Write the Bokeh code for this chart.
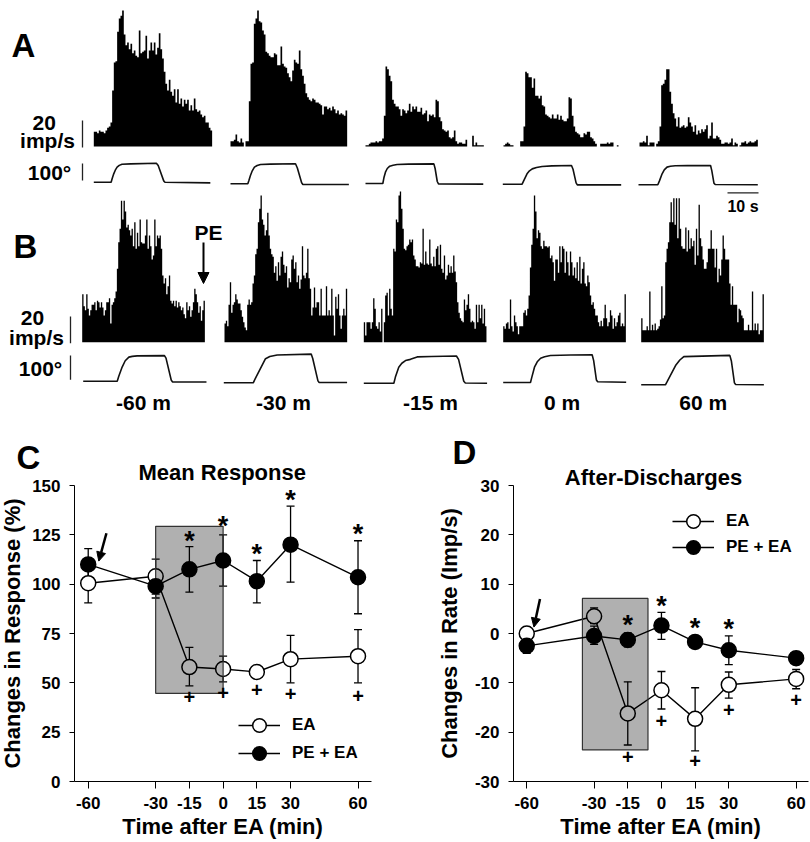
from bokeh.plotting import figure
from bokeh.layouts import column, row
from bokeh.models import (Range1d, Label, Whisker, TeeHead, ColumnDataSource, FixedTicker, Legend, LegendItem,
                          Arrow, NormalHead)
from bokeh.core.properties import value
from bokeh.embed import file_html
from bokeh.resources import INLINE

FONT = "Liberation Sans"

# ---- Histograms, imp/s per bin
hist_a1 = [11,11,10,12,11,11,10,12,14,15,18,42,63,64,86,96,98,102,84,76,78,73,77,70,72,68,67,87,70,71,72,83,66,72,78,72,78,69,74,85,73,66,56,47,42,50,41,38,43,33,43,32,36,30,35,32,35,27,31,27,36,28,26,27,24,22,23,18,18,14,12]
hist_a2 = [4,4,5,9,4,3,6,3,0,4,4,34,62,63,92,96,102,94,93,87,84,71,70,68,67,67,70,69,61,61,75,62,60,59,55,52,49,57,65,63,62,72,58,53,47,40,37,35,34,36,35,33,33,32,31,24,30,30,28,29,27,30,28,25,27,24,25,24,23,27]
hist_a3 = [1,1,2,3,3,3,4,3,4,4,6,23,60,58,53,49,35,32,30,30,28,23,28,27,25,27,32,26,30,28,30,26,26,29,24,25,27,19,24,23,24,22,35,34,22,19,13,12,11,12,7,6,7,12,4,2,3,3,2,2,5,0,0,0,8,1,3,1,1,1,1]
hist_a4 = [1,2,3,2,1,1,0,0,0,0,4,4,15,56,55,52,52,44,51,38,38,36,38,31,30,24,23,22,21,24,21,21,24,20,23,20,19,19,21,37,36,23,15,11,10,9,7,7,10,9,11,11,7,6,4,2,0,0,2,2,2,2,3,2,3,3,0,0,1,0]
hist_a5 = [3,3,4,3,8,1,3,3,3,0,2,4,15,46,47,50,58,58,41,32,25,21,15,22,14,15,16,14,15,22,18,15,11,16,9,12,10,13,11,13,16,6,8,18,6,6,8,7,5,2,2,3,3,2,3,6,1,3,2,0,1,3,3,4,2,3,4,3,3,4,5]
hist_b1 = [36,27,24,36,25,20,24,28,28,30,24,31,30,26,30,26,20,24,30,30,33,14,28,30,33,38,55,75,85,106,92,106,98,86,88,84,80,85,72,90,70,82,72,92,75,74,74,80,92,70,80,72,62,65,92,72,80,78,80,70,50,44,48,36,42,50,31,29,31,27,31,26,30,27,24,26,21,18,30,24,27,19,24,30,40,36,30,22,27,16,24,31]
hist_b2 = [14,16,12,28,45,22,28,30,36,32,29,29,24,19,15,11,9,28,32,28,30,44,50,66,70,90,100,110,92,88,80,84,97,80,70,66,64,52,57,46,60,50,64,68,58,52,57,41,48,45,62,65,55,60,45,50,40,47,72,50,48,52,70,48,40,20,26,41,26,30,30,20,40,20,20,20,42,20,24,20,40,20,5,34,25,36,20,10,20,25,20,40]
hist_b3 = [15,5,15,15,15,10,15,33,25,12,10,15,8,25,0,15,35,37,20,40,25,20,70,68,92,90,110,113,100,85,70,69,72,73,77,75,77,65,62,57,57,56,60,59,85,58,68,59,58,77,59,57,64,57,70,72,58,73,55,52,65,47,50,58,52,57,52,65,53,45,30,22,18,16,15,32,24,28,36,25,15,16,15,10,28,15,28,18,28,14,25,12]
hist_b4 = [12,10,14,15,10,32,12,8,20,15,12,6,12,12,12,22,24,20,25,35,56,73,85,110,98,78,84,82,72,70,76,72,72,71,72,63,65,60,46,62,62,52,72,60,72,70,52,68,60,50,68,60,50,56,48,60,46,64,44,55,60,44,42,50,45,35,28,30,25,20,20,15,12,16,12,18,28,18,12,15,24,20,10,18,12,15,20,22,12,14,12,36]
hist_b5 = [18,9,9,9,12,9,38,9,13,9,14,9,10,12,17,42,18,20,60,70,75,90,105,90,108,88,108,78,108,85,72,70,70,86,68,84,70,78,72,76,58,85,65,103,78,72,62,55,55,60,70,70,84,70,70,56,70,45,55,50,62,80,70,62,62,62,44,28,42,28,28,28,15,25,24,20,18,9,9,9,13,9,9,38,9,14,9,14,6,9,9,36]

# ---- Joint angle traces: time (s), angle (deg)
t_a1 = [0,5.65,6,6.5,7,7.6,8.3,9.2,12,20.4,21,22.8,23.2,38]
d_a1 = [0,0,22,50,72,90,101,108,110,114,100,8,0,-4]
t_a2 = [0,5.65,6,6.5,7.1,7.8,8.7,9.8,13,21.2,21.8,23.2,23.6,38.6]
d_a2 = [0,0,20,50,78,100,110,116,118,120,95,6,-4,-4]
t_a3 = [0,5.65,6,6.5,7.1,7.9,9,10.3,14,22.3,22.7,23.4,23.8,38.4]
d_a3 = [0,0,34,68,90,104,110,114,116,118,90,12,-2,-4]
t_a4 = [0,6.3,6.8,7.9,8.7,9.6,11,12.8,16,22.4,22.9,23.9,24.3,38.6]
d_a4 = [0,0,20,62,80,92,100,106,110,112,90,8,-4,-4]
t_a5 = [0,6.3,6.8,7.7,8.4,9.3,10.4,12,16,23.5,23.9,24.6,25,38.9]
d_a5 = [0,0,22,66,90,106,111,114,115,116,85,10,2,0]
t_b1 = [0,11.1,11.6,12.7,13.7,14.9,16,17.6,26.5,27,28.7,29.1,40.2]
d_b1 = [0,0,20,58,84,99,102,104,105,95,5,-3,-3]
t_b2 = [0,9.6,10.3,13.6,15,17.4,28.5,29,30.7,31.1,40.2]
d_b2 = [0,0,18,99,108,114,118,100,8,1,1]
t_b3 = [0,9.8,10.3,11.4,12.4,13.6,15.2,17.4,22,30.2,30.9,32.6,33.1,40.2]
d_b3 = [0,0,25,66,82,93,98,108,110,112,98,8,1,0]
t_b4 = [0,8.9,9.3,10.2,11.1,12.2,13.5,15.4,22,29,29.5,30.4,30.8,40.1]
d_b4 = [0,0,20,63,85,100,106,111,113,114,90,10,3,1]
t_b5 = [0,7.9,8.5,11.2,12.6,13.9,28.9,29.4,30.4,30.8,40]
d_b5 = [0,0,14,79,102,116,121,98,8,1,0]

# ---- Line charts
times = [-60,-30,-15,0,15,30,60]
time_labels = ["-60","-30","-15","0","15","30","60"]
c_ea = [100.5,104,58,57,55.5,62,63.5]
c_ea_hi = [110,112.7,68,63.5,57,74,77]
c_ea_lo = [90.5,95,48.5,50.5,54,50,50]
c_pe = [110,99,107.5,112,101.5,120,103.5]
c_pe_hi = [118,105,119,125,112,139.5,122]
c_pe_lo = [102,93,96,99,90.5,101,85]
d_ea = [0,3.5,-16.2,-11.5,-17.3,-10.4,-9.2]
d_ea_hi = [1.3,5.2,-9.8,-7.7,-11,-7.8,-7.3]
d_ea_lo = [-1.3,2,-22.6,-15.3,-23.8,-13.1,-11.2]
d_pe = [-2.5,-0.5,-1.3,1.6,-1.7,-3.4,-5]
d_pe_hi = [-1,1.5,0.1,4.3,-0.6,-0.5,-4.2]
d_pe_lo = [-4,-2.2,-2.7,-1.2,-2.8,-6.3,-5.8]
c_yticks = [0,25,50,75,100,125,150]
d_yticks = [-30,-20,-10,0,10,20,30]

W, H = 810, 490
ROW_TOP = 430
top = figure(width=W, height=H, output_backend="svg", toolbar_location=None, x_axis_type=None, y_axis_type=None,
             x_range=Range1d(0, W), y_range=Range1d(H, 0), min_border=0, outline_line_color=None)
top.grid.visible = False

def xr(name, x0, px_per_unit):
    top.extra_x_ranges[name] = Range1d((0 - x0) / px_per_unit, (W - x0) / px_per_unit)

def yr(name, base, px_per_unit):
    top.extra_y_ranges[name] = Range1d((base - H) / px_per_unit, base / px_per_unit)

hists = [("a1",hist_a1,93.3,146,5/3),("a2",hist_a2,230,146,5/3),("a3",hist_a3,365,146,5/3),("a4",hist_a4,503,146,5/3),
         ("a5",hist_a5,639,146,5/3),("b1",hist_b1,81.7,341.7,4/3),("b2",hist_b2,224,341.7,4/3),("b3",hist_b3,363.3,341.7,4/3),
         ("b4",hist_b4,502.7,341.7,4/3),("b5",hist_b5,640.7,341.7,4/3)]
for n, v, x0, base, bw in hists:
    xr("h" + n, x0, bw)
    yr("h" + n, base, 4 / 3)
    top.varea_step(x=list(range(len(v) + 1)), y1=[0] * (len(v) + 1), y2=v + [v[-1]], step_mode="after", fill_color="black",
                   x_range_name="h" + n, y_range_name="h" + n)

traces = [("a1",t_a1,d_a1,93.3,181.7,1/6),("a2",t_a2,d_a2,230,183.3,1/6),("a3",t_a3,d_a3,365,183,1/6),("a4",t_a4,d_a4,502.3,183.7,1/6),
          ("a5",t_a5,d_a5,638,184.3,1/6),("b1",t_b1,d_b1,82.7,380.7,.2433),("b2",t_b2,d_b2,223.3,382.3,.2433),
          ("b3",t_b3,d_b3,363.3,382.7,.2433),("b4",t_b4,d_b4,502.7,382,.2433),("b5",t_b5,d_b5,640.7,384.3,.2433)]
for n, t, d, x0, base, pp in traces:
    xr("t" + n, x0, 9.2 / 3)
    yr("t" + n, base, pp)
    top.line(t, d, line_color="#111111", line_width=1.6, x_range_name="t" + n, y_range_name="t" + n)

def txt(p, x, y, s, size, align="center", base="middle"):
    p.add_layout(Label(x=x, y=y, text=s, text_font=FONT, text_font_size=f"{size}px", text_font_style="bold",
                       text_align=align, text_baseline=base, text_color="black"))

for x, y, s in [(11,45,"A"),(13,245.5,"B"),(16,457,"C"),(452,451.5,"D")]:
    txt(top, x, y, s, 33, "left", "middle")
for x, y, s in [(43.7,122,"20"),(47,140,"imp/s"),(49,172,"100°"),(32,317,"20"),(36,337,"imp/s"),(40,368,"100°"),
                (208,232,"PE"),(143,402,"-60 m"),(283,402,"-30 m"),(430,402,"-15 m"),(561.7,402,"0 m"),(702.7,402,"60 m")]:
    txt(top, x, y, s, 21)
txt(top, 221.7, 471.7, "Mean Response", 22)
txt(top, 653, 476.7, "After-Discharges", 22)
txt(top, 742.5, 206, "10 s", 16)
top.add_layout(Arrow(x_start=203, y_start=242, x_end=203, y_end=283, line_width=2,
                     end=NormalHead(size=11, fill_color="black", line_color="black")))
top.segment([82,82,70,70,727], [120,163,316,355,192.3], [82,82,70,70,758], [147,180,342.7,379.3,192.3],
            line_color="#222222", line_width=1.3)


def chart(width, height, bl, br, xs, ys, yticks, ylabel, ea, ea_hi, ea_lo, pe, pe_hi, pe_lo, rect, standoff):
    p = figure(width=width, height=height, output_backend="svg", toolbar_location=None, x_range=Range1d(*xs),
               y_range=Range1d(*ys), min_border_left=bl, min_border_right=br, min_border_top=55, min_border_bottom=61,
               outline_line_color=None, border_fill_color=None, background_fill_color=None)
    p.grid.visible = False
    p.xaxis.ticker = FixedTicker(ticks=times)
    p.xaxis.major_label_overrides = dict(zip(times, time_labels))
    p.yaxis.ticker = FixedTicker(ticks=yticks)
    p.yaxis.major_label_overrides = {t: str(t) for t in yticks}
    for a in (p.xaxis[0], p.yaxis[0]):
        a.major_label_text_font = FONT
        a.major_label_text_font_size = "17px"
        a.major_label_text_font_style = "bold"
        a.major_label_text_color = "black"
        a.axis_label_text_font = FONT
        a.axis_label_text_font_size = "22px"
        a.axis_label_text_font_style = "bold"
        a.axis_label_text_color = "black"
        a.axis_line_color = "black"
        a.major_tick_line_color = "black"
        a.minor_tick_line_color = None
        a.major_tick_in = 0
    p.xaxis.major_tick_out = 7
    p.yaxis.major_tick_out = 5
    p.xaxis.axis_label = "Time after EA (min)"
    p.yaxis.axis_label = ylabel
    p.xaxis.axis_label_standoff = 2
    p.yaxis.axis_label_standoff = standoff
    p.xaxis.major_label_standoff = 8
    p.yaxis.major_label_standoff = 9
    for hi, lo in ((ea_hi, ea_lo), (pe_hi, pe_lo)):
        src = ColumnDataSource(dict(x=times, hi=hi, lo=lo))
        p.add_layout(Whisker(source=src, base="x", upper="hi", lower="lo", line_color="black", line_width=1.3, level="underlay",
                             upper_head=TeeHead(size=8, line_color="black", line_width=1.3),
                             lower_head=TeeHead(size=8, line_color="black", line_width=1.3)))
    l1 = p.line(times, ea, line_color="black", line_width=1.4)
    s1 = p.scatter(times, ea, size=15, fill_color="white", line_color="black", line_width=1.5)
    p.quad(left=rect[0], right=rect[1], bottom=rect[2], top=rect[3], fill_color="black", fill_alpha=0.31,
           line_color="#333333", line_width=1.2)
    l2 = p.line(times, pe, line_color="black", line_width=1.4)
    s2 = p.scatter(times, pe, size=15, fill_color="black", line_color="black", line_width=1.5)
    return p, [l1, s1], [l2, s2]


def legend(p, label, rend, x, y):
    lg = Legend(items=[LegendItem(label=label, renderers=rend)],
                location=(x, y), orientation="vertical", background_fill_alpha=0, border_line_color=None, padding=0, margin=0,
                glyph_width=42, glyph_height=34, label_standoff=12, spacing=0, label_text_font=FONT,
                label_text_font_size="17px", label_text_font_style="bold", label_text_color="black")
    p.add_layout(lg)


def marks(p, xs, ys, s, size, off):
    p.text(xs, ys, text=[s] * len(xs), text_font=value(FONT), text_font_size=f"{size}px", text_font_style="bold",
           text_align="center", text_baseline="alphabetic", y_offset=off, text_color="black")


C, c1, c2 = chart(436, 412, 80, 59, (-66.1, 66), (0, 150), c_yticks, "Changes in Response (%)", c_ea, c_ea_hi, c_ea_lo,
                  c_pe, c_pe_hi, c_pe_lo, (-30, 0, 44.7, 129.3), 4)
legend(C, "EA", c1, 164, 39)
legend(C, "PE + EA", c2, 164, 11)
marks(C, [-15,0,15,30,60], [123.5,130.9,117,144,126.8], "*", 27, 3)
marks(C, [-15,0,15,30,60], [43.5,45.2,46.8,44.6,43.8], "+", 20, 1)
C.add_layout(Arrow(x_start=-51.9, y_start=125.8, x_end=-55.3, y_end=111.7, line_width=2.5,
                   end=NormalHead(size=9, fill_color="black", line_color="black")))

D, d1, d2 = chart(380, 412, 83, 2, (-65.9, 65.5), (-30, 30), d_yticks, "Changes in Rate (Imp/s)", d_ea, d_ea_hi, d_ea_lo,
                  d_pe, d_pe_hi, d_pe_lo, (-35.2, -6, -23.6, 7.1), 10)
legend(D, "EA", d1, 159, 243)
legend(D, "PE + EA", d2, 159, 217)
marks(D, [-15,0,15,30], [2.3,6.1,1.7,1.5], "*", 27, 3)
marks(D, [-15,0,15,30,60], [-24.8,-17.5,-25.6,-15.3,-13.3], "+", 20, 1)
D.add_layout(Arrow(x_start=-54.1, y_start=7, x_end=-56.8, y_end=1.3, line_width=2.5,
                   end=NormalHead(size=9, fill_color="black", line_color="black")))

page = column(top, row(C, D, spacing=0, margin=(ROW_TOP - H, 0, 0, -6)), spacing=0)
open("out.html", "w").write(file_html(page, INLINE))
